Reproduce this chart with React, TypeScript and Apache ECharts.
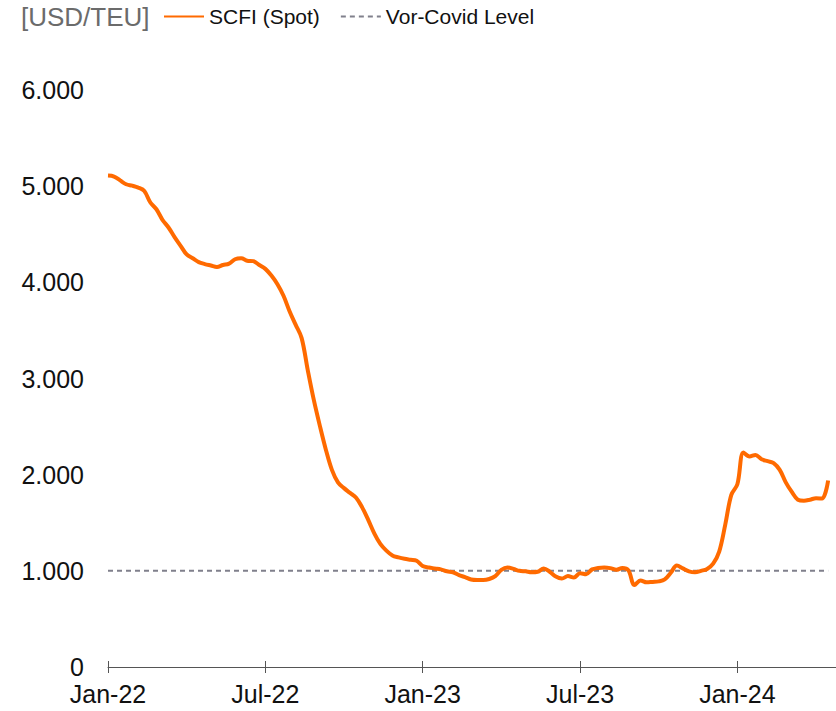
import React, { useEffect, useRef } from "react";
import * as echarts from "echarts";

// Weekly SCFI spot values (USD/TEU), first week of Jan 2022 onward
const scfiValues: number[] = [
  5110, 5100, 5060, 5020, 5005, 4985, 4950, 4830, 4760, 4650,
  4570, 4470, 4380, 4290, 4250, 4210, 4190, 4175, 4160, 4180,
  4195, 4240, 4250, 4225, 4220, 4180, 4140, 4070, 3980, 3860,
  3700, 3560, 3420, 3090, 2780, 2510, 2260, 2050, 1920, 1860,
  1810, 1760, 1660, 1530, 1390, 1280, 1210, 1160, 1140, 1125,
  1115, 1105, 1050, 1035, 1025, 1015, 995, 985, 955, 935,
  910, 905, 905, 915, 945, 1010, 1035, 1020, 1000, 995,
  985, 990, 1025, 990, 940, 920, 945, 930, 975, 965,
  1015, 1030, 1035, 1028, 1010, 1030, 1005, 852, 900, 880,
  885, 890, 910, 980, 1055, 1025, 995, 985, 1000, 1020,
  1075, 1200, 1480, 1790, 1900, 2230, 2190, 2205, 2160, 2140,
  2120, 2050, 1920, 1820, 1740, 1730, 1740, 1755, 1752, 1940,
];

// Pre-Covid reference level
const preCovidLevel = 1000;
const preCovidSpan = [0, 119];

// X-axis ticks (week index) and labels
const tickPositions = [0, 26, 52, 78, 104];
const tickLabels = ["Jan-22", "Jul-22", "Jan-23", "Jul-23", "Jan-24"];

// Y-axis ticks
const yMin = 0;
const yMax = 6000;
const yInterval = 1000;

const FONT = "'Liberation Sans', Arial, Helvetica, sans-serif";

export default function App() {
  const ref = useRef<HTMLDivElement>(null);

  useEffect(() => {
    document.body.style.margin = "0";
    if (!ref.current) return;
    const chart = echarts.init(ref.current, undefined, { renderer: "svg" });

    const scfiData = scfiValues.map((v, i) => [i, v]);
    const levelData = preCovidSpan.map((x) => [x, preCovidLevel]);

    chart.setOption({
      animation: false,
      backgroundColor: "#ffffff",
      textStyle: { fontFamily: FONT },
      title: {
        text: "[USD/TEU]",
        left: 16,
        top: -1,
        textStyle: {
          fontFamily: FONT,
          fontSize: 26,
          fontWeight: "normal",
          color: "#6b6b6b",
        },
      },
      legend: {
        left: 158,
        top: 1,
        itemWidth: 40,
        itemHeight: 14,
        itemGap: 20,
        itemStyle: { opacity: 0 },
        textStyle: { fontFamily: FONT, fontSize: 21, color: "#111111" },
        data: ["SCFI (Spot)", "Vor-Covid Level"],
      },
      grid: { left: 108, right: 0, top: 90, bottom: 44, containLabel: false },
      xAxis: [
        {
          type: "value",
          min: 0,
          max: 120.3,
          axisLine: { show: true, lineStyle: { color: "#555555", width: 1 } },
          axisTick: {
            show: true,
            customValues: tickPositions,
            length: 6,
            lineStyle: { color: "#555555", width: 1 },
          },
          axisLabel: {
            show: true,
            customValues: tickPositions,
            margin: 14,
            fontFamily: FONT,
            fontSize: 25,
            color: "#111111",
            formatter: (v: number) => {
              const idx = tickPositions.indexOf(Math.round(v));
              return idx >= 0 ? tickLabels[idx] : "";
            },
          },
          splitLine: { show: false },
        },
        {
          type: "value",
          position: "bottom",
          min: 0,
          max: 120.3,
          axisLine: { show: false },
          axisTick: {
            show: true,
            inside: true,
            customValues: tickPositions,
            length: 6,
            lineStyle: { color: "#555555", width: 1 },
          },
          axisLabel: { show: false },
          splitLine: { show: false },
        },
      ],
      yAxis: {
        type: "value",
        min: yMin,
        max: yMax,
        interval: yInterval,
        axisLine: { show: false },
        axisTick: { show: false },
        splitLine: { show: false },
        axisLabel: {
          margin: 24,
          fontFamily: FONT,
          fontSize: 25,
          color: "#111111",
          formatter: (v: number) =>
            v >= 1000 ? `${Math.floor(v / 1000)}.${String(v % 1000).padStart(3, "0")}` : String(v),
        },
      },
      series: [
        {
          name: "Vor-Covid Level",
          type: "line",
          xAxisIndex: 0,
          data: levelData,
          symbol: "none",
          showSymbol: false,
          lineStyle: { color: "#80808c", width: 2, type: [5, 4] },
          itemStyle: { color: "#80808c" },
          z: 1,
        },
        {
          name: "SCFI (Spot)",
          type: "line",
          xAxisIndex: 0,
          data: scfiData,
          symbol: "none",
          showSymbol: false,
          smooth: 0.35,
          lineStyle: { color: "#ff6a00", width: 4 },
          itemStyle: { color: "#ff6a00" },
          z: 2,
        },
      ],
    });

    return () => chart.dispose();
  }, []);

  return <div ref={ref} style={{ width: 836, height: 711 }} />;
}
